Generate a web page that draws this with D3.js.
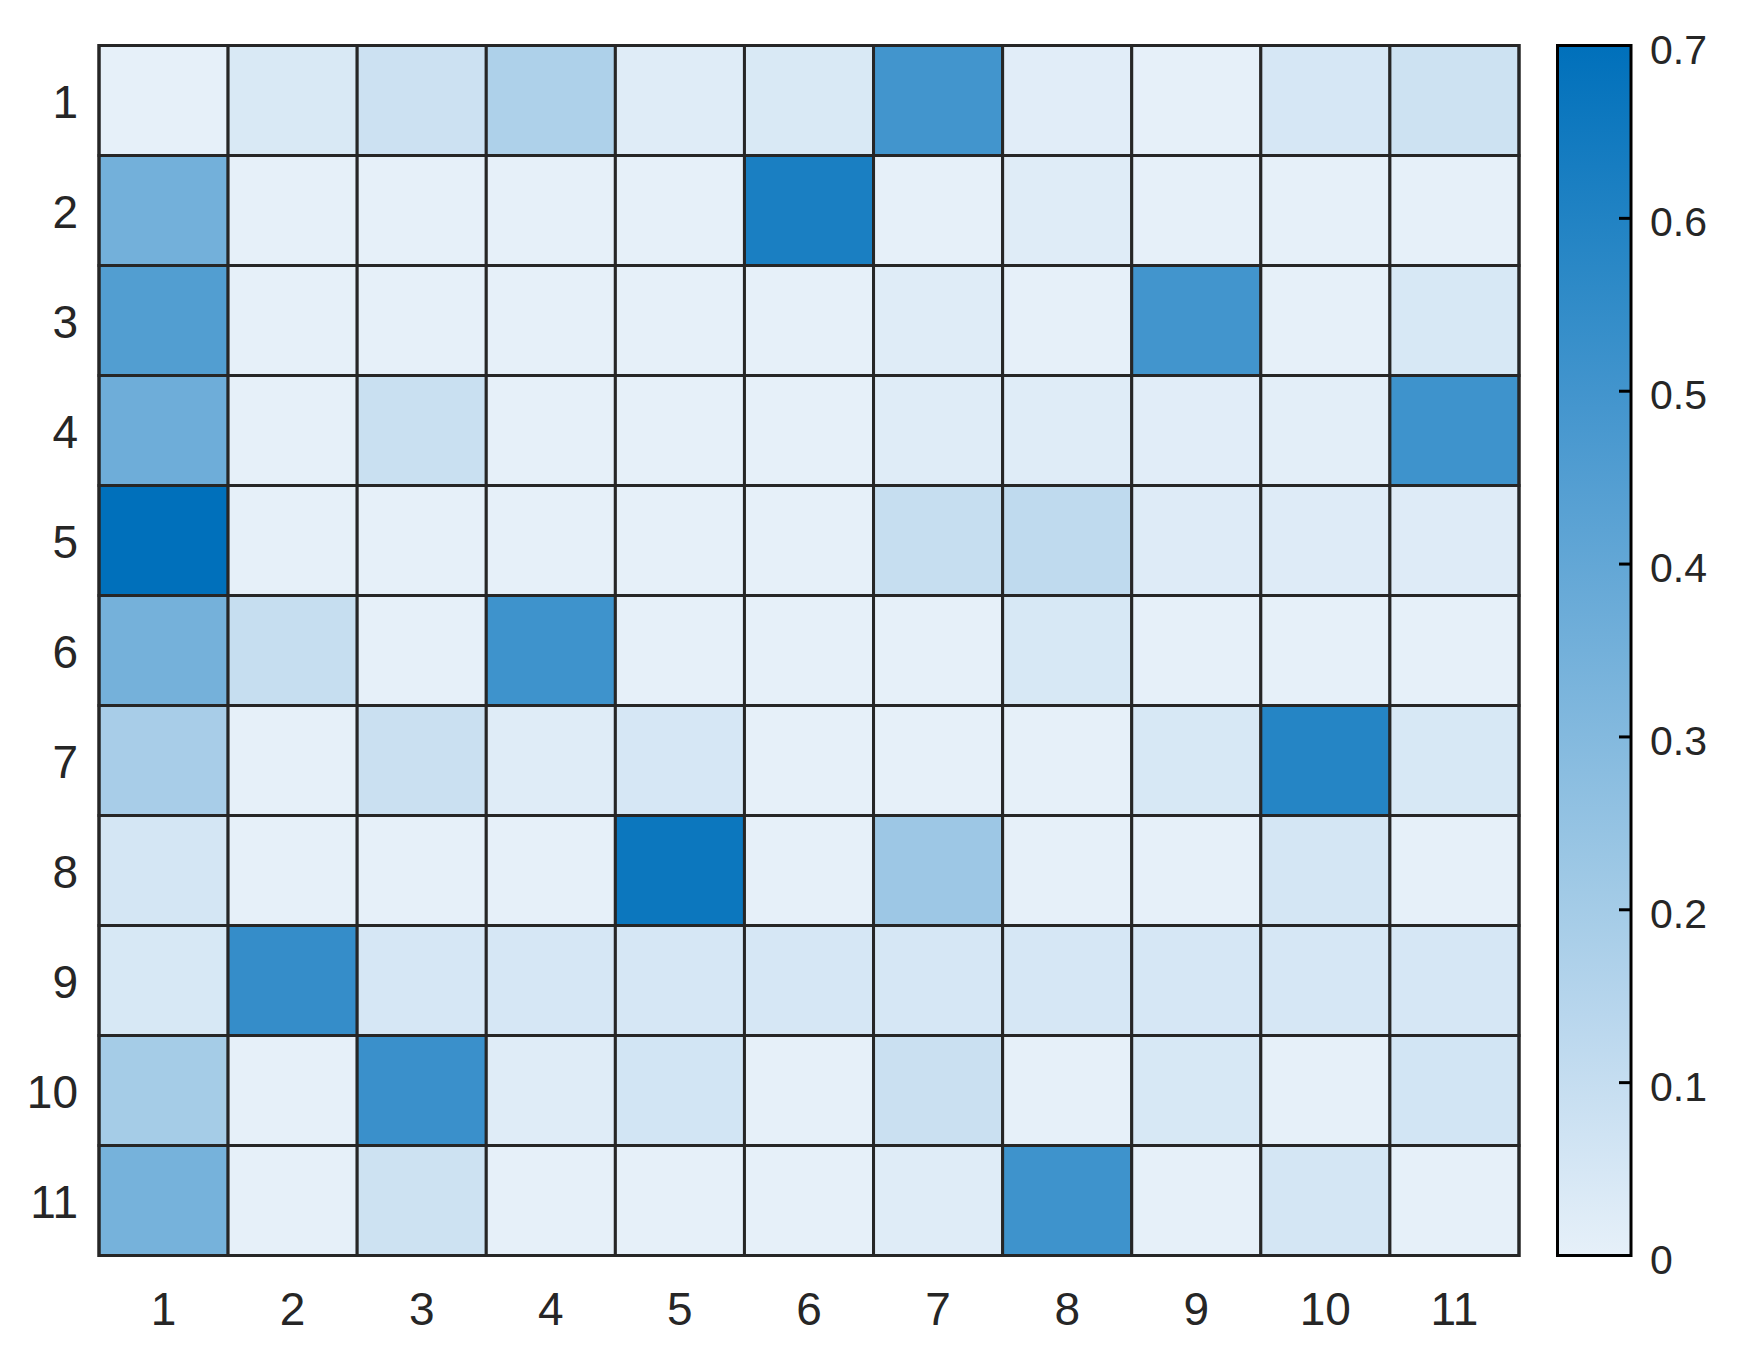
<!DOCTYPE html>
<html>
<head>
<meta charset="utf-8">
<script src="https://cdn.jsdelivr.net/npm/d3@7"></script>
<style>
  html, body { margin: 0; padding: 0; background: #fff; }
  svg { display: block; }
</style>
</head>
<body>
<div id="chart"></div>
<script>
// ---- data ----
const rowLabels = ["1","2","3","4","5","6","7","8","9","10","11"];
const colLabels = ["1","2","3","4","5","6","7","8","9","10","11"];
const row1  = [0.00, 0.04, 0.08, 0.17, 0.02, 0.04, 0.50, 0.015, 0.00, 0.05, 0.075];
const row2  = [0.35, 0.00, 0.00, 0.00, 0.00, 0.62, 0.00, 0.02, 0.00, 0.00, 0.00];
const row3  = [0.45, 0.00, 0.00, 0.00, 0.00, 0.00, 0.02, 0.00, 0.50, 0.00, 0.045];
const row4  = [0.365, 0.00, 0.088, 0.00, 0.00, 0.00, 0.02, 0.02, 0.015, 0.01, 0.51];
const row5  = [0.70, 0.00, 0.00, 0.00, 0.00, 0.00, 0.097, 0.12, 0.025, 0.025, 0.025];
const row6  = [0.345, 0.097, 0.00, 0.51, 0.00, 0.00, 0.00, 0.045, 0.00, 0.00, 0.00];
const row7  = [0.19, 0.00, 0.085, 0.02, 0.05, 0.00, 0.00, 0.00, 0.045, 0.587, 0.045];
const row8  = [0.055, 0.00, 0.00, 0.00, 0.663, 0.00, 0.222, 0.00, 0.00, 0.055, 0.00];
const row9  = [0.045, 0.54, 0.05, 0.05, 0.05, 0.05, 0.05, 0.05, 0.05, 0.05, 0.05];
const row10 = [0.198, 0.00, 0.523, 0.02, 0.06, 0.00, 0.085, 0.00, 0.045, 0.00, 0.06];
const row11 = [0.34, 0.00, 0.075, 0.00, 0.00, 0.00, 0.02, 0.51, 0.00, 0.055, 0.00];
const matrix = [row1,row2,row3,row4,row5,row6,row7,row8,row9,row10,row11];
const colorTicks = [0, 0.1, 0.2, 0.3, 0.4, 0.5, 0.6, 0.7];
const colorDomain = [0, 0.7];

// ---- layout ----
const W = 1748, H = 1368;
const plot = {x0: 99, x1: 1519, y0: 45.5, y1: 1255.5};
const cbar = {x0: 1557.5, x1: 1631};
const textColor = "#262626";
const font = "'Liberation Sans', Arial, Helvetica, sans-serif";

const svg = d3.select("#chart").append("svg")
  .attr("width", W).attr("height", H);

const x = d3.scaleBand().domain(colLabels).range([plot.x0, plot.x1]);
const y = d3.scaleBand().domain(rowLabels).range([plot.y0, plot.y1]);
const color = d3.scaleLinear().domain(colorDomain)
  .range(["#e6f0f9", "#0070bb"]).interpolate(d3.interpolateRgb).clamp(true);

const cells = [];
matrix.forEach((row, i) => row.forEach((v, j) => cells.push({r: rowLabels[i], c: colLabels[j], v})));

svg.append("g").selectAll("rect").data(cells).join("rect")
  .attr("x", d => x(d.c)).attr("y", d => y(d.r))
  .attr("width", x.bandwidth()).attr("height", y.bandwidth())
  .attr("fill", d => color(d.v))
  .attr("stroke", textColor).attr("stroke-width", 3);

svg.append("rect")
  .attr("x", plot.x0).attr("y", plot.y0)
  .attr("width", plot.x1 - plot.x0).attr("height", plot.y1 - plot.y0)
  .attr("fill", "none").attr("stroke", textColor).attr("stroke-width", 3);

// axis labels
svg.append("g").selectAll("text").data(rowLabels).join("text")
  .attr("x", 78).attr("y", d => y(d) + y.bandwidth() / 2 + 17)
  .attr("text-anchor", "end").attr("fill", textColor)
  .style("font-family", font).style("font-size", "46px")
  .text(d => d);

svg.append("g").selectAll("text").data(colLabels).join("text")
  .attr("x", d => x(d) + x.bandwidth() / 2).attr("y", 1325)
  .attr("text-anchor", "middle").attr("fill", textColor)
  .style("font-family", font).style("font-size", "46px")
  .text(d => d);

// colorbar
const cy = d3.scaleLinear().domain(colorDomain).range([plot.y1, plot.y0]);
const defs = svg.append("defs");
const grad = defs.append("linearGradient").attr("id", "cbgrad")
  .attr("x1", 0).attr("y1", 1).attr("x2", 0).attr("y2", 0);
d3.range(0, 1.0001, 0.1).forEach(t => {
  const v = colorDomain[0] + t * (colorDomain[1] - colorDomain[0]);
  grad.append("stop").attr("offset", t).attr("stop-color", color(v));
});
svg.append("rect")
  .attr("x", cbar.x0).attr("y", cy(colorDomain[1]))
  .attr("width", cbar.x1 - cbar.x0).attr("height", cy(colorDomain[0]) - cy(colorDomain[1]))
  .attr("fill", "url(#cbgrad)").attr("stroke", "#000").attr("stroke-width", 3);

svg.append("g").selectAll("line").data(colorTicks.filter(t => t > 0 && t < 0.7)).join("line")
  .attr("x1", cbar.x1 - 12).attr("x2", cbar.x1)
  .attr("y1", d => cy(d)).attr("y2", d => cy(d))
  .attr("stroke", "#000").attr("stroke-width", 3);

svg.append("g").selectAll("text").data(colorTicks).join("text")
  .attr("x", 1650).attr("y", d => cy(d) + 18)
  .attr("fill", textColor)
  .style("font-family", font).style("font-size", "41px")
  .text(d => d === 0 ? "0" : d3.format(".1f")(d));
</script>
</body>
</html>
